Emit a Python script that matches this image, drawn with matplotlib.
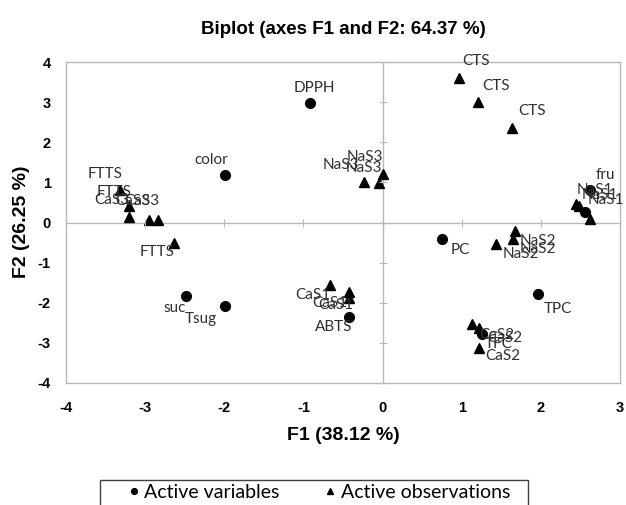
"""Biplot (axes F1 and F2) recreated with matplotlib."""

import matplotlib
matplotlib.use("Agg")
import matplotlib.pyplot as plt
from matplotlib.patches import Rectangle

OUTPUT = "out.png"

# ---------------------------------------------------------------------------
# Data
# ---------------------------------------------------------------------------
var_names = ["DPPH", "color", "suc", "Tsug", "ABTS", "PC", "TPC", "TFC", "fru", ""]
var_x = [-0.92, -1.99, -2.49, -1.99, -0.43, 0.75, 1.97, 1.26, 2.62, 2.56]
var_y = [2.97, 1.18, -1.82, -2.07, -2.35, -0.40, -1.77, -2.78, 0.82, 0.27]

obs_names = ["CTS", "CTS", "CTS",
             "FTTS", "FTTS", "FTTS",
             "CaS3", "CaS3", "CaS3",
             "NaS3", "NaS3", "NaS3",
             "NaS1", "NaS1", "NaS1",
             "NaS2", "NaS2", "NaS2",
             "CaS1", "CaS1", "CaS1",
             "CaS2", "CaS2", "CaS2"]
obs_x = [0.96, 1.20, 1.63,
         -3.32, -3.20, -2.63,
         -3.20, -2.95, -2.84,
         0.00, -0.24, -0.05,
         2.44, 2.48, 2.62,
         1.67, 1.65, 1.43,
         -0.66, -0.42, -0.43,
         1.13, 1.22, 1.22]
obs_y = [3.60, 3.00, 2.35,
         0.80, 0.42, -0.50,
         0.13, 0.05, 0.05,
         1.22, 1.00, 0.98,
         0.47, 0.40, 0.08,
         -0.20, -0.40, -0.53,
         -1.55, -1.72, -1.88,
         -2.52, -2.63, -3.12]

x_ticks = [-4, -3, -2, -1, 0, 1, 2, 3]
y_ticks = [-4, -3, -2, -1, 0, 1, 2, 3, 4]

# label offsets in pixels (layout only)
var_offsets = [(5, 15), (-14, 15), (-11, -12), (-24, -13), (-15, -10),
               (18, -11), (19, -15), (16, -10), (15, 15), (0, 0)]
obs_offsets = [(18, 17), (19, 16), (20, 17),
               (-15, 16), (-15, 14), (-17, -9),
               (-18, 17), (-16, 19), (-16, 19),
               (-18, 17), (-23, 17), (-15, 15),
               (19, 14), (21, 11), (16, 19),
               (23, -10), (25, -10), (25, -10),
               (-18, -10), (-20, -11), (-13, -7),
               (25, -11), (26, -10), (24, -8)]

# ---------------------------------------------------------------------------
# Plot
# ---------------------------------------------------------------------------
W, H = 626, 505
fig = plt.figure(figsize=(W / 100, H / 100), dpi=100)
rect = [66 / W, 1 - 383 / H, (620 - 66) / W, (383 - 62) / H]
ax = fig.add_axes(rect)

label_font = dict(family="Lato", fontsize=11, color="#303030")
frame_gray = "#b8b8b8"

ax.axhline(0, color=frame_gray, lw=1, zorder=1)
ax.axvline(0, color=frame_gray, lw=1, zorder=1)

ax.plot(var_x, var_y, "o", color="black", markersize=7, zorder=3,
        label="Active variables")
ax.plot(obs_x, obs_y, "^", color="black", markersize=6.5, zorder=3,
        label="Active observations")

for name, x, y, off in zip(var_names, var_x, var_y, var_offsets):
    if name:
        ax.annotate(name, (x, y), xytext=off, textcoords="offset pixels",
                    ha="center", va="center", zorder=4, **label_font)
for name, x, y, off in zip(obs_names, obs_x, obs_y, obs_offsets):
    ax.annotate(name, (x, y), xytext=off, textcoords="offset pixels",
                ha="center", va="center", zorder=4, annotation_clip=False,
                **label_font)

ax.set_xlim(-4, 3)
ax.set_ylim(-4, 4)
ax.set_xticks(x_ticks)
ax.set_yticks(y_ticks)
ax.set_xticklabels([str(t) for t in x_ticks])
ax.set_yticklabels([str(t) for t in y_ticks])
ax.tick_params(length=0, labelsize=10.5)
ax.tick_params(axis="x", pad=13)
ax.tick_params(axis="y", pad=11)
for lab in ax.get_xticklabels() + ax.get_yticklabels():
    lab.set_family("Liberation Sans")
    lab.set_fontweight("bold")
for s in ax.spines.values():
    s.set_color(frame_gray)
    s.set_linewidth(1)

# tick marks drawn on the zero axes
ax2 = fig.add_axes(rect, sharex=ax, sharey=ax)
ax2.patch.set_visible(False)
ax2.spines["left"].set_position(("data", 0))
ax2.spines["bottom"].set_position(("data", 0))
for s in ax2.spines.values():
    s.set_visible(False)
ax2.tick_params(direction="inout", length=6, color=frame_gray,
                labelleft=False, labelbottom=False)

fig.text(343 / W, 1 - 34 / H, "Biplot (axes F1 and F2: 64.37 %)",
         ha="center", va="baseline", fontsize=13.5, fontweight="bold",
         family="Liberation Sans")
fig.text(343 / W, 1 - 435 / H, "F1 (38.12 %)", ha="center", va="center",
         fontsize=14, fontweight="bold", family="Liberation Sans")
fig.text(22 / W, 1 - 222 / H, "F2 (26.25 %)", ha="center", va="center",
         rotation=90, fontsize=14, fontweight="bold", family="Liberation Sans")

# legend
fig.patches.append(Rectangle((100 / W, -0.05), 428 / W, 0.05 + 1 - 480 / H,
                             transform=fig.transFigure, fill=False,
                             edgecolor="#404040", lw=1))
fig.legend(loc="center", bbox_to_anchor=(318 / W, 1 - 492 / H), ncol=2,
           frameon=False, prop={"family": "Lato", "size": 14},
           handletextpad=0.15, columnspacing=2.2, handlelength=0.8,
           markerscale=0.6)

fig.savefig(OUTPUT, dpi=100)
print(f"Saved {OUTPUT}")
